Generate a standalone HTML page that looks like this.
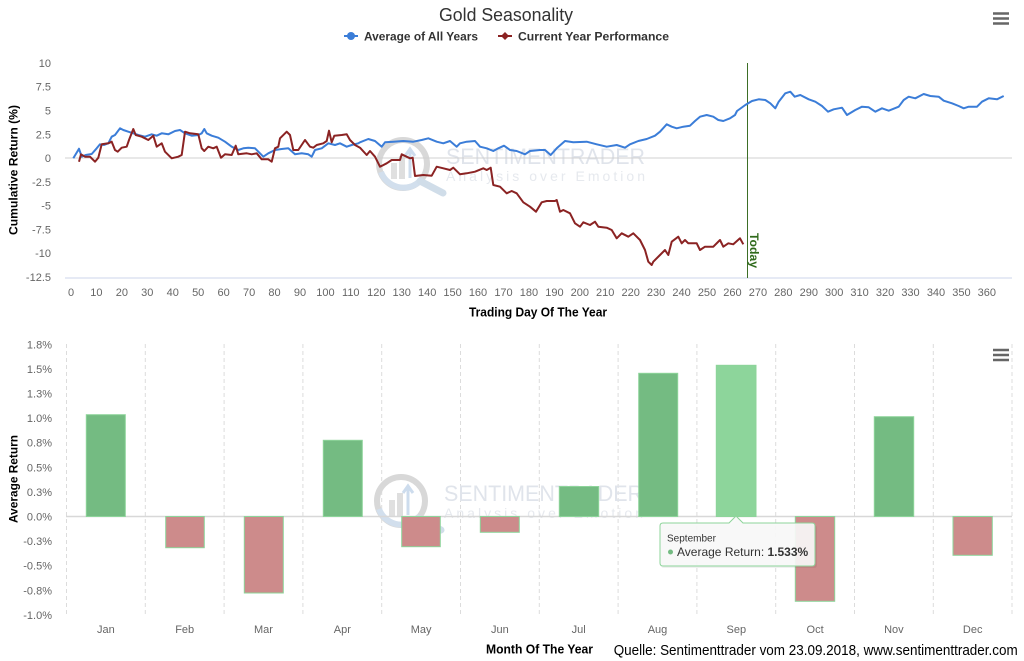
<!DOCTYPE html>
<html><head><meta charset="utf-8"><style>
html,body{margin:0;padding:0;background:#fff;}
svg{display:block;font-family:"Liberation Sans",Arial,sans-serif;}
</style></head><body>
<svg width="1024" height="661" viewBox="0 0 1024 661" xmlns="http://www.w3.org/2000/svg">
<rect width="1024" height="661" fill="#fff"/>

<!-- Title & legend -->
<text x="439" y="21" font-size="18" fill="#333" textLength="134" lengthAdjust="spacingAndGlyphs">Gold Seasonality</text>
<line x1="344" y1="36" x2="358" y2="36" stroke="#3b7dd8" stroke-width="2"/>
<circle cx="351" cy="36" r="4" fill="#3b7dd8"/>
<text x="364" y="40.5" font-size="12" font-weight="bold" fill="#333" textLength="114" lengthAdjust="spacingAndGlyphs">Average of All Years</text>
<line x1="498" y1="36" x2="512" y2="36" stroke="#8b2323" stroke-width="2"/>
<path d="M505,32 L509,36 L505,40 L501,36 Z" fill="#8b2323"/>
<text x="518" y="40.5" font-size="12" font-weight="bold" fill="#333" textLength="151" lengthAdjust="spacingAndGlyphs">Current Year Performance</text>

<!-- hamburger menus -->
<g stroke="#666" stroke-width="2.5">
<line x1="993" y1="13.5" x2="1009" y2="13.5"/><line x1="993" y1="18.5" x2="1009" y2="18.5"/><line x1="993" y1="23.5" x2="1009" y2="23.5"/>
<line x1="993" y1="350" x2="1009" y2="350"/><line x1="993" y1="355" x2="1009" y2="355"/><line x1="993" y1="360" x2="1009" y2="360"/>
</g>

<!-- Watermark top -->
<g id="wm">
<circle cx="403" cy="164" r="24" fill="none" stroke="#d8d8d8" stroke-width="6"/>
<path d="M381,172 A24,24 0 0 0 419,182" fill="none" stroke="#d2dfed" stroke-width="6"/>
<line x1="420" y1="181" x2="443" y2="193" stroke="#d0dde9" stroke-width="7" stroke-linecap="round"/>
<rect x="391" y="163" width="6" height="16" fill="#e0e0e0"/>
<rect x="399" y="156" width="6" height="23" fill="#dedede"/>
<path d="M410,178 V151 M405,156 L410,149 L415,156" fill="none" stroke="#cddced" stroke-width="3"/>
<text x="446" y="164" font-size="22" fill="#e0e4eb" textLength="199" lengthAdjust="spacingAndGlyphs">SENTIMENTRADER</text>
<text x="446" y="181" font-size="14" fill="#e6e9ee" textLength="199" lengthAdjust="spacing">Analysis over Emotion</text>
</g>

<!-- Top chart axes -->
<line x1="65" y1="158" x2="1012" y2="158" stroke="#d0d0d0" stroke-width="1"/>
<line x1="65" y1="278" x2="1012" y2="278" stroke="#ccd6eb" stroke-width="1"/>
<g font-size="11" fill="#666" text-anchor="end">
<text x="51" y="67">10</text>
<text x="51" y="90.7">7.5</text>
<text x="51" y="114.5">5</text>
<text x="51" y="138.3">2.5</text>
<text x="51" y="162">0</text>
<text x="51" y="185.8">-2.5</text>
<text x="51" y="209.6">-5</text>
<text x="51" y="233.4">-7.5</text>
<text x="51" y="257.2">-10</text>
<text x="51" y="281">-12.5</text>
</g>
<g font-size="11" fill="#666" text-anchor="middle">
<text x="71" y="296">0</text><text x="96.4" y="296">10</text><text x="121.9" y="296">20</text><text x="147.3" y="296">30</text><text x="172.8" y="296">40</text><text x="198.2" y="296">50</text><text x="223.6" y="296">60</text><text x="249.1" y="296">70</text><text x="274.5" y="296">80</text><text x="300" y="296">90</text><text x="325.4" y="296">100</text><text x="350.8" y="296">110</text><text x="376.3" y="296">120</text><text x="401.7" y="296">130</text><text x="427.2" y="296">140</text><text x="452.6" y="296">150</text><text x="478" y="296">160</text><text x="503.5" y="296">170</text><text x="528.9" y="296">180</text><text x="554.4" y="296">190</text><text x="579.8" y="296">200</text><text x="605.2" y="296">210</text><text x="630.7" y="296">220</text><text x="656.1" y="296">230</text><text x="681.6" y="296">240</text><text x="707" y="296">250</text><text x="732.4" y="296">260</text><text x="757.9" y="296">270</text><text x="783.3" y="296">280</text><text x="808.8" y="296">290</text><text x="834.2" y="296">300</text><text x="859.6" y="296">310</text><text x="885.1" y="296">320</text><text x="910.5" y="296">330</text><text x="936" y="296">340</text><text x="961.4" y="296">350</text><text x="986.8" y="296">360</text>
</g>
<text transform="translate(17.5,170) rotate(-90)" text-anchor="middle" font-size="12" font-weight="bold" fill="#000" textLength="130" lengthAdjust="spacingAndGlyphs">Cumulative Return (%)</text>
<text x="469" y="316.5" font-size="12.5" font-weight="bold" fill="#000" textLength="138" lengthAdjust="spacingAndGlyphs">Trading Day Of The Year</text>

<!-- Today line -->
<line x1="747.5" y1="63" x2="747.5" y2="278" stroke="#3d6e26" stroke-width="1"/>
<text transform="translate(750,233) rotate(90)" font-size="12" font-weight="bold" fill="#2f6a1b" textLength="35" lengthAdjust="spacingAndGlyphs">Today</text>

<!-- Series -->
<polyline fill="none" stroke="#3b7dd8" stroke-width="2" stroke-linejoin="round" points="73.3,158.3 79,148.7 81.7,156.7 85.7,155 91.7,154 96.7,148.3 100,144.3 104,145 108.3,143.3 111.7,136.7 115,135 120,128.3 123.3,130 128.3,131.7 133.3,133.3 138.3,135 145,136.7 151.7,134.3 156.7,135.7 161.7,133.3 168.3,134.3 175,131 180,130 185,133.3 191.7,135.7 198.3,135 201.7,133.3 204.3,129 206.7,133.3 211.7,135.7 218.3,137.7 225,141.7 231.7,146.7 238.3,150 243.3,148.3 248.3,147.7 255,148.3 260,153.3 263.3,156.7 268.3,153.3 275,150 281.7,149 288.3,148.3 295,154.3 301.7,153.3 308.3,154.3 311.7,156.7 315,150 321.7,148.3 328.3,143.3 335,145 340,143.3 346.7,146.7 351.7,145 358.3,143.3 360,142.3 368.3,139 375,141 381.7,146.7 385,142.3 393.3,141.7 403.3,141 413.3,141.7 421.7,140 428.3,138.3 436.7,141.7 443.3,143.3 450,141 456.7,146.7 460,143.3 466.7,141.7 475,141 480,146.7 486.7,148.3 493.3,151 498.3,148.3 504,145.7 510,150 516.7,151 525,154.3 530,151 540,150 545,150 550.7,155 556.7,148.3 565,141 573.3,142.3 586.7,141.7 596.7,144.3 606.7,146.7 616.7,145 625,147.7 630,144.3 638.3,141 646.7,139 655,135.7 660,131.7 666.7,124.3 671.7,126.7 676.7,128.3 683.3,126.7 690,125.7 695,121 700,116.7 706.7,115 713.3,116.7 718.3,120 723.3,121 730,118.3 735,115 737,111 745.3,105 752,101 758.7,99.3 765.3,100 770.3,103.3 775.3,108.3 778.7,101.7 785.3,93.3 790.3,91.7 794.7,96.7 800.3,95 808.7,99.3 815.3,101.7 822,106 828,111.7 833.7,109.3 842,107.7 847,115 855.3,110 862,106.7 868.7,107.3 875.3,111.7 882,108.3 888.7,110.7 898.7,106.7 903.7,100 908.7,96.7 915.3,98.3 923.7,94 930.3,96 938.7,96.7 943.7,100.7 952,103.3 958.7,106 963.7,108.3 968.7,106.7 977,106.7 982,101.7 988.7,98.3 997,99.3 1003.7,96"/>
<polyline fill="none" stroke="#8b2323" stroke-width="2" stroke-linejoin="round" points="79,161.7 81,154.3 85,156.7 90,156.7 95,161.7 98.3,157.7 101.7,144.3 108.3,143.3 111.7,141.7 115,150 117.7,151.7 121.7,147.7 126.7,146.7 129,140 133.3,129 135.7,135 141.7,136.7 148.3,140 153.3,135.7 156.7,146.7 161.7,143.3 165,151.7 171.7,158.3 178.3,156.7 181.7,155 185,131.7 190,133.3 198.3,134.3 201.7,148.3 204.3,151 208.3,146.7 213.3,148.3 216.7,146.7 221,157.7 225,154.3 231.7,155 235.7,145.7 238.3,154.3 246.7,153.3 251.7,154.3 256.7,153.3 261.7,159.3 268.3,159.3 271.7,161.7 275,148.3 278.3,146.7 280,138.3 286.7,131.7 290,135 293.3,150 298.3,150 305,140 310,146.7 313.3,147.7 316.7,145 323.3,143.3 326.7,141 329,130.7 331.7,142.3 334.3,135.7 341.7,135 346.7,134.3 350,140 355,145 360,147.7 366.7,155 370,151 375,156.7 380,166.7 386.7,163.3 391.7,160 400,160 401.7,154.3 410,158.3 412.7,157.7 415,176 423.3,175 431.7,175.7 436.7,166.7 443.3,168.3 450,170 453.3,167.7 460,174.3 466.7,173.3 475,171.7 483.3,168.3 486.7,170 490.7,167.7 493.3,185 500,186.7 506.7,193.3 511.7,191 516.7,193.3 523.3,202.3 530,206.7 536,211.7 541.7,202.3 546.7,201 555,201 556.7,200 560,211.7 563.3,210 570,213.3 575,223.3 580,226.7 583.3,222.3 590,225 595,221.7 598.3,226.7 606.7,227.7 611.7,230 616.7,238.3 621.7,233.3 628.3,236.7 633.3,233.3 640,240 645,250 648.3,261.7 651.7,265 653.3,261.7 660,255 665,250 668.3,255 671.7,241.7 678.3,236.7 681.7,243.3 685,240 688.3,243.3 696.7,243.3 700,250 705,246.7 713.3,246.7 720,240 723.3,246.7 728.3,243.3 733.3,244.3 740,238.3 743.3,244.3"/>

<!-- Bottom chart -->
<g stroke="#dcdcdc" stroke-width="1" stroke-dasharray="4,3">
<line x1="66.5" y1="344" x2="66.5" y2="616"/><line x1="145.3" y1="344" x2="145.3" y2="616"/><line x1="224.1" y1="344" x2="224.1" y2="616"/><line x1="302.9" y1="344" x2="302.9" y2="616"/><line x1="381.7" y1="344" x2="381.7" y2="616"/><line x1="460.5" y1="344" x2="460.5" y2="616"/><line x1="539.3" y1="344" x2="539.3" y2="616"/><line x1="618.1" y1="344" x2="618.1" y2="616"/><line x1="696.9" y1="344" x2="696.9" y2="616"/><line x1="775.7" y1="344" x2="775.7" y2="616"/><line x1="854.5" y1="344" x2="854.5" y2="616"/><line x1="933.3" y1="344" x2="933.3" y2="616"/><line x1="1012" y1="344" x2="1012" y2="616"/>
</g>
<use href="#wm" transform="translate(-2,337)"/>
<line x1="66" y1="516.5" x2="1012" y2="516.5" stroke="#d8d8d8" stroke-width="1.5"/>
<g font-size="11" fill="#666" text-anchor="end">
<text x="52" y="348.3">1.8%</text><text x="52" y="372.9">1.5%</text><text x="52" y="397.5">1.3%</text><text x="52" y="422.1">1.0%</text><text x="52" y="446.7">0.8%</text><text x="52" y="471.3">0.5%</text><text x="52" y="495.9">0.3%</text><text x="52" y="520.5">0.0%</text><text x="52" y="545.1">-0.3%</text><text x="52" y="569.7">-0.5%</text><text x="52" y="594.3">-0.8%</text><text x="52" y="619">-1.0%</text>
</g>
<g stroke="#8dd49a" stroke-width="1">
<rect x="86.3" y="414.7" width="39" height="101.8" fill="#74bb82"/>
<rect x="165.7" y="516.5" width="38.6" height="31.2" fill="#cd8b8b"/>
<rect x="244.3" y="516.5" width="39" height="76.5" fill="#cd8b8b"/>
<rect x="323.3" y="440.3" width="39" height="76.2" fill="#74bb82"/>
<rect x="401.7" y="516.5" width="38.6" height="30.2" fill="#cd8b8b"/>
<rect x="480.3" y="516.5" width="39" height="15.8" fill="#cd8b8b"/>
<rect x="559.3" y="486.5" width="39.4" height="30" fill="#74bb82"/>
<rect x="638.7" y="373.3" width="39" height="143.2" fill="#74bb82"/>
<rect x="716.3" y="365.3" width="39.7" height="151.2" fill="#8dd59b"/>
<rect x="795.3" y="516.5" width="39.4" height="84.8" fill="#cd8b8b"/>
<rect x="874.3" y="416.7" width="39.4" height="99.8" fill="#74bb82"/>
<rect x="953" y="516.5" width="39.3" height="38.8" fill="#cd8b8b"/>
</g>
<g font-size="11" fill="#666" text-anchor="middle">
<text x="105.9" y="633">Jan</text><text x="184.7" y="633">Feb</text><text x="263.5" y="633">Mar</text><text x="342.3" y="633">Apr</text><text x="421.1" y="633">May</text><text x="499.9" y="633">Jun</text><text x="578.7" y="633">Jul</text><text x="657.5" y="633">Aug</text><text x="736.3" y="633">Sep</text><text x="815.1" y="633">Oct</text><text x="893.9" y="633">Nov</text><text x="972.7" y="633">Dec</text>
</g>
<text transform="translate(17.5,479) rotate(-90)" text-anchor="middle" font-size="12" font-weight="bold" fill="#000" textLength="88" lengthAdjust="spacingAndGlyphs">Average Return</text>
<text x="486" y="653.5" font-size="12.5" font-weight="bold" fill="#000" textLength="107" lengthAdjust="spacingAndGlyphs">Month Of The Year</text>

<!-- Tooltip -->
<path d="M664,525 H731 L738,518 L745,525 H814 Q817,525 817,528 V565 Q817,568 814,568 H664 Q661,568 661,565 V528 Q661,525 664,525 Z" fill="#000" opacity="0.06"/>
<path d="M663,523 H729 L736,516 L743,523 H812 Q815,523 815,526 V563 Q815,566 812,566 H663 Q660,566 660,563 V526 Q660,523 663,523 Z" fill="#f8f8f8" fill-opacity="0.92" stroke="#8dd49a" stroke-width="1"/>
<text x="667" y="541.5" font-size="10" fill="#333">September</text>
<circle cx="670.5" cy="552" r="2.5" fill="#74bb82"/>
<text x="677" y="556" font-size="12" fill="#333">Average Return: <tspan font-weight="bold">1.533%</tspan></text>

<!-- Footer -->
<text x="613.7" y="655" font-size="15" fill="#000" textLength="404" lengthAdjust="spacingAndGlyphs">Quelle: Sentimenttrader vom 23.09.2018, www.sentimenttrader.com</text>
</svg>
</body></html>
